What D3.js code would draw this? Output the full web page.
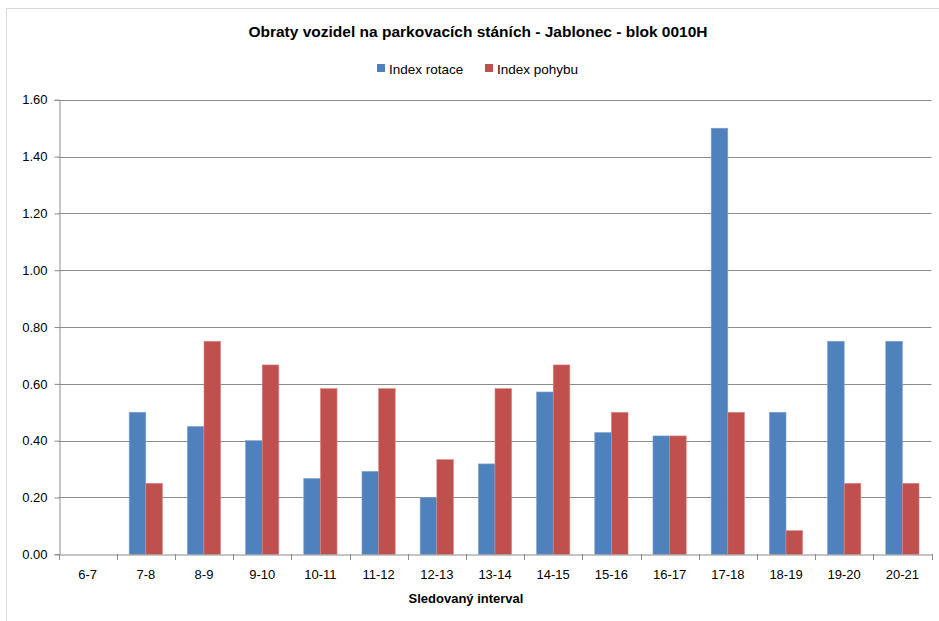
<!DOCTYPE html>
<html>
<head>
<meta charset="utf-8">
<script src="https://cdn.jsdelivr.net/npm/d3@7"></script>
<style>
  body { margin: 0; background: #fff; }
  text { font-family: "Liberation Sans", Arial, sans-serif; fill: #000; }
</style>
</head>
<body>
<div id="chart"></div>
<script>
var intervals = ["6-7", "7-8", "8-9", "9-10", "10-11", "11-12", "12-13", "13-14",
                 "14-15", "15-16", "16-17", "17-18", "18-19", "19-20", "20-21"];
var indexRotace = [0, 0.5, 0.45, 0.4, 0.2667, 0.2917, 0.2, 0.3182,
                   0.5714, 0.4286, 0.4167, 1.5, 0.5, 0.75, 0.75];
var indexPohybu = [0, 0.25, 0.75, 0.6667, 0.5833, 0.5833, 0.3333, 0.5833,
                   0.6667, 0.5, 0.4167, 0.5, 0.0833, 0.25, 0.25];
var seriesNames = ["Index rotace", "Index pohybu"];
var yTicks = [0, 0.2, 0.4, 0.6, 0.8, 1.0, 1.2, 1.4, 1.6];

var colors = ["#4F81BD", "#C0504D"];
var edges = ["#7FA3D0", "#D98A88"];

var width = 939, height = 621;
var plotLeft = 58.5, plotRight = 931.5, plotTop = 99.8, plotBottom = 554.3;

var svg = d3.select("#chart")
            .append("svg")
            .attr("width", width)
            .attr("height", height);

// chart area border (runs off the picture at right and bottom)
svg.append("rect")
   .attr("x", 6.5).attr("y", 8.5)
   .attr("width", 960).attr("height", 640)
   .style("fill", "none")
   .style("stroke", "#d9d9d9");

var x = d3.scaleBand().domain(intervals).range([plotLeft, plotRight]).paddingInner(0).paddingOuter(0);
var y = d3.scaleLinear().domain([0, 1.6]).range([plotBottom, plotTop]);

var inner = d3.scaleBand().domain([0, 1]).range([0, x.bandwidth()])
              .paddingInner(0).paddingOuter(0.75);

// gridlines
svg.selectAll("line.grid")
   .data(yTicks.slice(1))
   .enter()
   .append("line")
   .attr("x1", plotLeft).attr("x2", plotRight)
   .attr("y1", function(d) { return Math.round(y(d)) + 0.5; })
   .attr("y2", function(d) { return Math.round(y(d)) + 0.5; })
   .style("stroke", "#8c8c8c")
   .style("stroke-width", 1);

// bars
var data = intervals.map(function(k, i) {
    return { key: k, vals: [indexRotace[i], indexPohybu[i]] };
});

var groups = svg.selectAll("g.band")
                .data(data)
                .enter()
                .append("g")
                .attr("transform", function(d) { return "translate(" + x(d.key) + ",0)"; });

groups.selectAll("rect")
      .data(function(d) { return d.vals.map(function(v, s) { return { s: s, v: v }; }); })
      .enter()
      .filter(function(d) { return d.v > 0; })
      .append("rect")
      .attr("x", function(d) { return inner(d.s); })
      .attr("y", function(d) { return y(d.v); })
      .attr("width", inner.bandwidth())
      .attr("height", function(d) { return y(0) - y(d.v); })
      .style("fill", function(d) { return colors[d.s]; })
      .style("stroke", function(d) { return edges[d.s]; })
      .style("stroke-width", 0.6);

// y axis
var yAxis = svg.append("g")
               .attr("transform", "translate(" + (Math.round(plotLeft) + 0.5) + ",0)")
               .call(d3.axisLeft(y).tickValues(yTicks).tickFormat(d3.format(".2f")).tickSize(5).tickPadding(7));
yAxis.select(".domain").style("stroke", "#8c8c8c");
yAxis.selectAll(".tick line").style("stroke", "#8c8c8c");
yAxis.selectAll("text").style("font-size", "13px").style("font-family", "'Liberation Sans', Arial, sans-serif");

// x axis
var xAxis = svg.append("g")
               .attr("transform", "translate(0," + (Math.round(plotBottom) + 0.5) + ")")
               .call(d3.axisBottom(x).tickSize(0).tickPadding(15));
xAxis.select(".domain").style("stroke", "#8c8c8c");
xAxis.selectAll("text").style("font-size", "13px").style("font-family", "'Liberation Sans', Arial, sans-serif");

// boundary tick marks
svg.selectAll("line.xtick")
   .data(intervals.concat(["end"]))
   .enter()
   .append("line")
   .attr("x1", function(d, i) { return Math.round(plotLeft + i * x.bandwidth()) + 0.5; })
   .attr("x2", function(d, i) { return Math.round(plotLeft + i * x.bandwidth()) + 0.5; })
   .attr("y1", Math.round(plotBottom))
   .attr("y2", Math.round(plotBottom) + 6)
   .style("stroke", "#8c8c8c");

// title
svg.append("text")
   .attr("x", 478).attr("y", 37)
   .attr("text-anchor", "middle")
   .style("font-size", "15.5px")
   .style("font-weight", "bold")
   .text("Obraty vozidel na parkovacích stáních - Jablonec - blok 0010H");

// legend
var legendX = [377, 485];
var legend = svg.selectAll("g.legend")
                .data(seriesNames)
                .enter()
                .append("g")
                .attr("transform", function(d, i) { return "translate(" + legendX[i] + ",64)"; });
legend.append("rect")
      .attr("width", 8).attr("height", 8)
      .style("fill", function(d, i) { return colors[i]; });
legend.append("text")
      .attr("x", 12).attr("y", 9.5)
      .style("font-size", "13.5px")
      .text(function(d) { return d; });

// axis title
svg.append("text")
   .attr("x", 466).attr("y", 603)
   .attr("text-anchor", "middle")
   .style("font-size", "13px")
   .style("font-weight", "bold")
   .text("Sledovaný interval");
</script>
</body>
</html>
